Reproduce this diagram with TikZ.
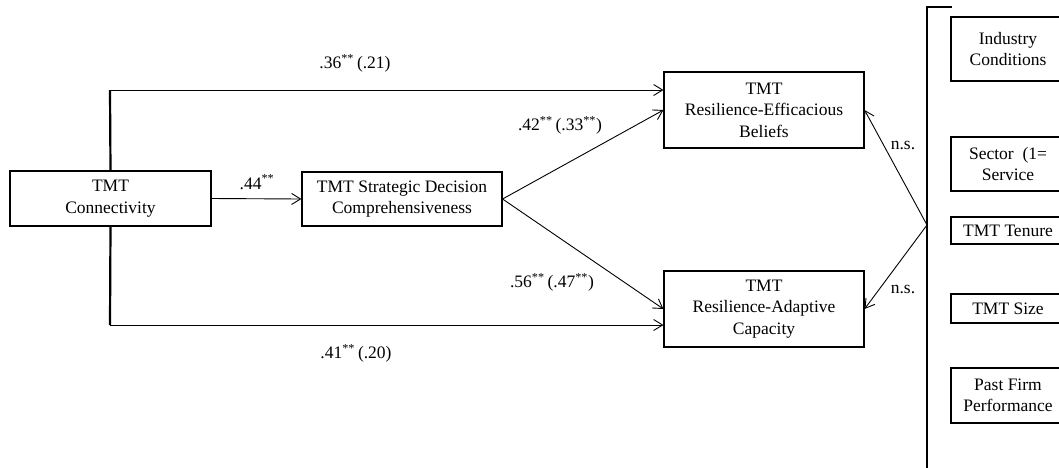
\documentclass[tikz,border=0pt]{standalone}
\usepackage{fontspec}
\setmainfont{Liberation Serif}
\usetikzlibrary{arrows.meta}
\begin{document}
\begin{tikzpicture}[x=1pt,y=-1pt,
  every node/.style={font=\fontsize{17.5}{21.5}\selectfont, inner sep=0pt},
  varbox/.style={draw, line width=1.1pt, align=center},
  ctlbox/.style={draw, line width=1.1pt, align=center, minimum width=114pt},
  lbl/.style={},
  arr/.style={line width=0.9pt, -{Straight Barb[length=9pt,width=11pt,line width=0.9pt]}},
  thickline/.style={line width=2.2pt}
]
\useasboundingbox (0,0) rectangle (1059,467);
% main variables
\node[varbox, minimum width=201pt, minimum height=55pt] (conn) at (110.5,198.5) {TMT\\Connectivity};
\node[varbox, minimum width=200pt, minimum height=54pt] (strat) at (402,199) {TMT Strategic Decision\\Comprehensiveness};
\node[varbox, minimum width=200pt, minimum height=76pt] (eff) at (764,110) {TMT\\Resilience-Efficacious\\Beliefs};
\node[varbox, minimum width=200pt, minimum height=76pt] (adap) at (764,309) {TMT\\Resilience-Adaptive\\Capacity};
% controls
\node[ctlbox, minimum height=64pt] (ind) at (1008,49) {Industry\\Conditions};
\node[ctlbox, minimum height=54pt] (sec) at (1008,164) {Sector\ \ (1=\\Service};
\node[ctlbox, minimum height=27pt] (ten) at (1008,230.5) {TMT Tenure};
\node[ctlbox, minimum height=29pt] (siz) at (1008,308.5) {TMT Size};
\node[ctlbox, minimum height=55pt] (past) at (1008,395.5) {Past Firm\\Performance};
% bracket
\coordinate (brtop) at (927,7);
\coordinate (brend) at (952,7);
\coordinate (brbot) at (927,470);
\coordinate (ctl) at (927,225);
\draw[thickline] (brend) -- (brtop) -- (brbot);
% connectivity paths
\coordinate (tl) at (110,90);
\coordinate (bl) at (110,325);
\draw[thickline] (conn.north) -- (tl);
\draw[thickline] (conn.south) -- (bl);
\draw[arr] (tl) -- (tl -| eff.west);
\draw[arr] (bl) -- (bl -| adap.west);
\draw[arr] (conn.east) -- (strat.west);
\draw[arr] (strat.east) -- (eff.west);
\draw[arr] (strat.east) -- (adap.west);
\draw[arr] (ctl) -- (eff.east);
\draw[arr] (ctl) -- (adap.east);
% labels
\node[lbl] (l36) at (355,63) {.36\textsuperscript{**}\,(.21)};
\node[lbl] (l44) at (257,182) {.44\textsuperscript{**}};
\node[lbl] (l42) at (560,125) {.42\textsuperscript{**}\,(.33\textsuperscript{**})};
\node[lbl] (l56) at (552,282) {.56\textsuperscript{**}\,(.47\textsuperscript{**})};
\node[lbl] (l41) at (356,353) {.41\textsuperscript{**}\,(.20)};
\node[lbl] (ns1) at (903,145) {n.s.};
\node[lbl] (ns2) at (903,289) {n.s.};
\end{tikzpicture}
\end{document}
